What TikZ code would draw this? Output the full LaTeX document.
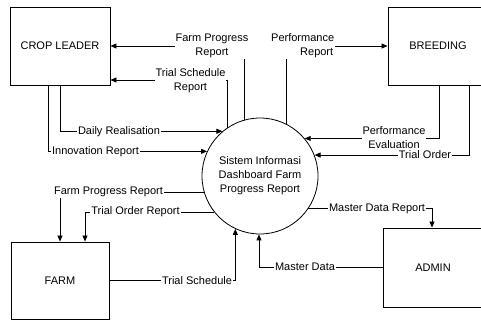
\documentclass[tikz,border=0pt]{standalone}
\usepackage{fontspec}
\setmainfont{Liberation Sans}
\usetikzlibrary{arrows.meta,calc}
\tikzset{
  txt/.style={font=\fontsize{11pt}{14pt}\selectfont},
  entity/.style={draw, line width=0.9pt, txt, inner sep=0pt},
  proc/.style={draw, circle, line width=0.8pt, txt, align=center, inner sep=0pt, minimum size=116pt},
  flow/.style={line width=0.8pt, -{Triangle[length=6pt,width=5pt]}},
  lab/.style={txt, fill=white, inner sep=1pt, align=center}
}
\begin{document}
\begin{tikzpicture}[x=1pt,y=-1pt]
\useasboundingbox (0,0) rectangle (481,320);
\clip (0,0) rectangle (481,320);
\fill[white] (0,0) rectangle (481,320);
% entities
\node[entity, minimum width=100pt, minimum height=78pt] (cl) at (60,46) {CROP LEADER};
\node[entity, minimum width=100pt, minimum height=78pt] (br) at (438,46) {BREEDING};
\node[entity, minimum width=100pt, minimum height=79pt] (ad) at (433,267.5) {ADMIN};
\node[entity, minimum width=98pt, minimum height=77.5pt] (fm) at (60,280.75) {FARM};
% process
\node[proc] (sys) at (260,176) {Sistem Informasi\\Dashboard Farm\\Progress Report};
% helper coordinates
\coordinate (tsr) at ($(cl.east)+(0,34)$);
\coordinate (clin) at ($(cl.south)+(-12,0)$);
\coordinate (brpe) at ($(br.south)+(1,0)$);
\coordinate (brto) at ($(br.south)+(31,0)$);
\coordinate (fmto) at ($(fm.north)+(25,0)$);
\coordinate (admr) at ($(ad.north)+(-1,0)$);
% flows
\draw[flow] (sys.106) |- (cl.east);
\draw[flow] (sys.124.7) |- (tsr);
\draw[flow] (sys.63.4) |- (br.west);
\draw[flow] (cl.south) |- (sys.130.7);
\draw[flow] (clin) |- (sys.155.6);
\draw[flow] (brpe) |- (sys.40.9);
\draw[flow] (brto) |- (sys.21.2);
\draw[flow] (sys.196) -| (fm.north);
\draw[flow] (sys.218.4) -| (fmto);
\draw[flow] (fm.east) -| (sys.245.6);
\draw[flow] (ad.west) -| (sys.269);
\draw[flow] (sys.-34.7) -| (admr);
% labels
\node[lab] (l1) at (212,46) {Farm Progress\\Report};
\node[lab, align=left, anchor=west] (l2) at (270,46) {Performance\\\hspace*{29pt}Report};
\node[lab] (l3) at (190.5,81) {Trial Schedule\\Report};
\node[lab] (l4) at (119,132) {Daily Realisation};
\node[lab] (l5) at (95.5,152) {Innovation Report};
\node[lab] (l6) at (394,138) {Performance\\Evaluation};
\node[lab] (l7) at (425,155) {Trial Order};
\node[lab] (l8) at (108.5,192) {Farm Progress Report};
\node[lab] (l9) at (135.5,212) {Trial Order Report};
\node[lab] (l10) at (197,281) {Trial Schedule};
\node[lab] (l11) at (305,267) {Master Data};
\node[lab] (l12) at (377,209) {Master Data Report};
\end{tikzpicture}
\end{document}
